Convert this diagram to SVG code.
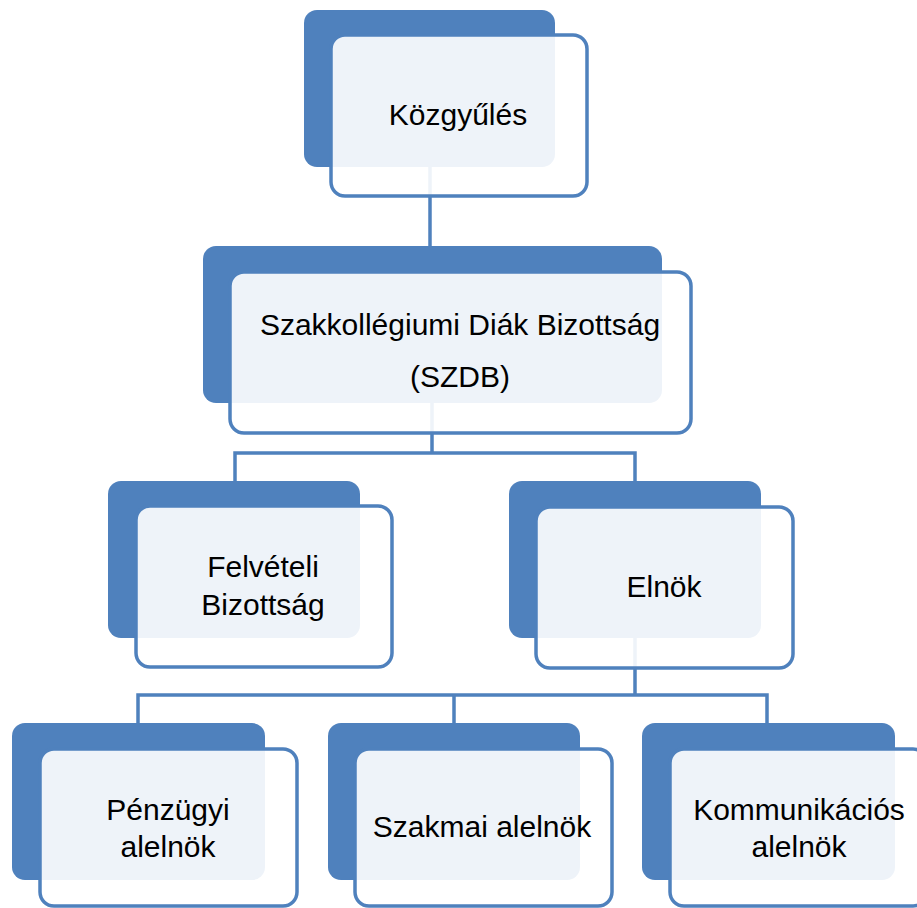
<svg xmlns="http://www.w3.org/2000/svg" width="917" height="908" viewBox="0 0 917 908">
<style>
.back{fill:#4F81BD}
.front{fill:#ffffff;fill-opacity:0.9;stroke:#4F81BD;stroke-width:3.5}
.conn{fill:none;stroke:#4F81BD;stroke-width:3.5}
text{font-family:"Liberation Sans",Arial,sans-serif;font-size:30px;fill:#000;text-anchor:middle}
</style>
<rect width="917" height="908" fill="#ffffff"/>
<g id="connectors">
<path class="conn" d="M430,167 V246"/>
<path class="conn" d="M432,403 V453 H235 V481 M432,453 H635 V481"/>
<path class="conn" d="M635,638 V695 H138 V723 M454,695 V723 M635,695 H767 V723"/>
</g>
<g id="kozgyules">
<rect class="back" x="304" y="10" width="251" height="157" rx="13"/>
<rect class="front" x="331" y="35" width="256" height="161" rx="14"/>
<text x="458" y="125">Közgyűlés</text>
</g>
<g id="szdb">
<rect class="back" x="203" y="246" width="459" height="157" rx="13"/>
<rect class="front" x="230" y="272" width="461" height="161" rx="14"/>
<text x="460" y="335">Szakkollégiumi Diák Bizottság</text>
<text x="460" y="387">(SZDB)</text>
</g>
<g id="felveteli">
<rect class="back" x="108" y="481" width="252" height="157" rx="13"/>
<rect class="front" x="136" y="506" width="256" height="161" rx="14"/>
<text x="263" y="577">Felvételi</text>
<text x="263" y="615">Bizottság</text>
</g>
<g id="elnok">
<rect class="back" x="509" y="481" width="252" height="157" rx="13"/>
<rect class="front" x="536" y="507" width="257" height="161" rx="14"/>
<text x="664" y="597">Elnök</text>
</g>
<g id="penzugyi">
<rect class="back" x="12" y="723" width="253" height="157" rx="13"/>
<rect class="front" x="40" y="749" width="257" height="157" rx="14"/>
<text x="168" y="820">Pénzügyi</text>
<text x="168" y="857">alelnök</text>
</g>
<g id="szakmai">
<rect class="back" x="328" y="723" width="252" height="157" rx="13"/>
<rect class="front" x="355" y="749" width="257" height="157" rx="14"/>
<text x="482" y="837">Szakmai alelnök</text>
</g>
<g id="kommunikacios">
<rect class="back" x="642" y="723" width="253" height="157" rx="13"/>
<rect class="front" x="670" y="749" width="257" height="157" rx="14"/>
<text x="799" y="820">Kommunikációs</text>
<text x="799" y="857">alelnök</text>
</g>
</svg>
